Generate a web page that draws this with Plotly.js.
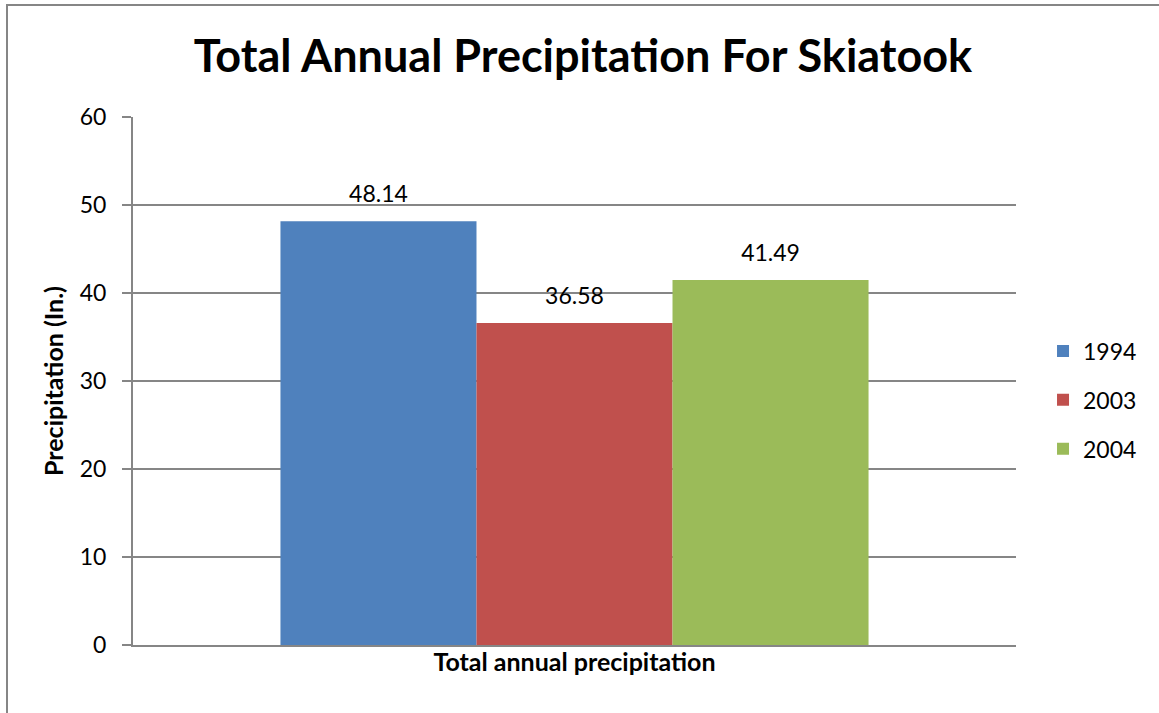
<!DOCTYPE html>
<html>
<head>
<meta charset="utf-8">
<script src="https://cdn.plot.ly/plotly-3.0.1.min.js"></script>
<style>
  html, body { margin: 0; padding: 0; background: #fff; overflow: hidden; }
  #wrap { position: relative; width: 1159px; height: 713px; }
  #frame { position: absolute; left: 6px; top: 4px; width: 1200px; height: 800px;
           border-left: 2px solid #868686; border-top: 2px solid #868686; pointer-events: none; z-index: 5; }
  #chart { position: absolute; left: 0; top: 0; width: 1159px; height: 713px; }
</style>
</head>
<body>
<div id="wrap">
  <div id="chart"></div>
  <div id="frame"></div>
</div>
<script>
const categories = ["Total annual precipitation"];
const seriesNames = ["1994", "2003", "2004"];
const values1994 = [48.14];
const values2003 = [36.58];
const values2004 = [41.49];
const seriesColors = ["#4F81BD", "#C0504D", "#9BBB59"];
const yTicks = [0, 10, 20, 30, 40, 50, 60];

const FONT = "Lato, 'Open Sans', sans-serif";
const seriesValues = [values1994, values2003, values2004];

const traces = seriesNames.map((name, i) => ({
  type: "bar",
  name: name,
  x: categories,
  y: seriesValues[i],
  marker: { color: seriesColors[i], line: { width: 0 } },
  text: seriesValues[i].map(v => v.toFixed(2)),
  texttemplate: "<span style='font-size:23px'>%{text}</span><br> ",
  textposition: "outside",
  cliponaxis: false,
  textfont: { family: FONT, size: 11, color: "#000" },
  legendgroup: name,
  hoverinfo: "skip"
}));

const layout = {
  width: 1159,
  height: 713,
  margin: { l: 133, r: 143, t: 117, b: 68 },
  paper_bgcolor: "rgba(0,0,0,0)",
  plot_bgcolor: "#fff",
  font: { family: FONT, color: "#000" },
  title: {
    text: "<b>Total Annual Precipitation For Skiatook</b>",
    font: { family: FONT, size: 45, color: "#000" },
    x: 0.503, xanchor: "center",
    y: 0.921, yanchor: "middle", yref: "container"
  },
  barmode: "group",
  bargap: 0.334,
  bargroupgap: 0,
  showlegend: true,
  legend: {
    x: 1.0306, xanchor: "left",
    y: 0.464, yanchor: "middle",
    font: { family: FONT, size: 23, color: "#000" },
    tracegroupgap: 16,
    traceorder: "grouped",
    bgcolor: "rgba(0,0,0,0)"
  },
  xaxis: {
    type: "category",
    showticklabels: false,
    showgrid: false,
    showline: true,
    linecolor: "#868686",
    linewidth: 2,
    ticks: "",
    zeroline: false,
    title: {
      text: "<b>Total annual precipitation</b>",
      font: { family: FONT, size: 25, color: "#000" },
      standoff: 7
    }
  },
  yaxis: {
    range: [0, 60],
    tickvals: yTicks,
    ticktext: yTicks.map(String),
    showgrid: true,
    gridcolor: "#868686",
    gridwidth: 1.5,
    showline: true,
    linecolor: "#868686",
    linewidth: 2,
    ticks: "outside",
    ticklen: 9,
    tickwidth: 2,
    tickcolor: "#868686",
    ticklabelstandoff: 11,
    tickfont: { family: FONT, size: 23, color: "#000" },
    zeroline: false,
    title: {
      text: "<b>Precipitation (In.)</b>",
      font: { family: FONT, size: 25, color: "#000" },
      standoff: 9
    }
  }
};

Plotly.newPlot("chart", traces, layout, { displayModeBar: false, staticPlot: true });
</script>
</body>
</html>
